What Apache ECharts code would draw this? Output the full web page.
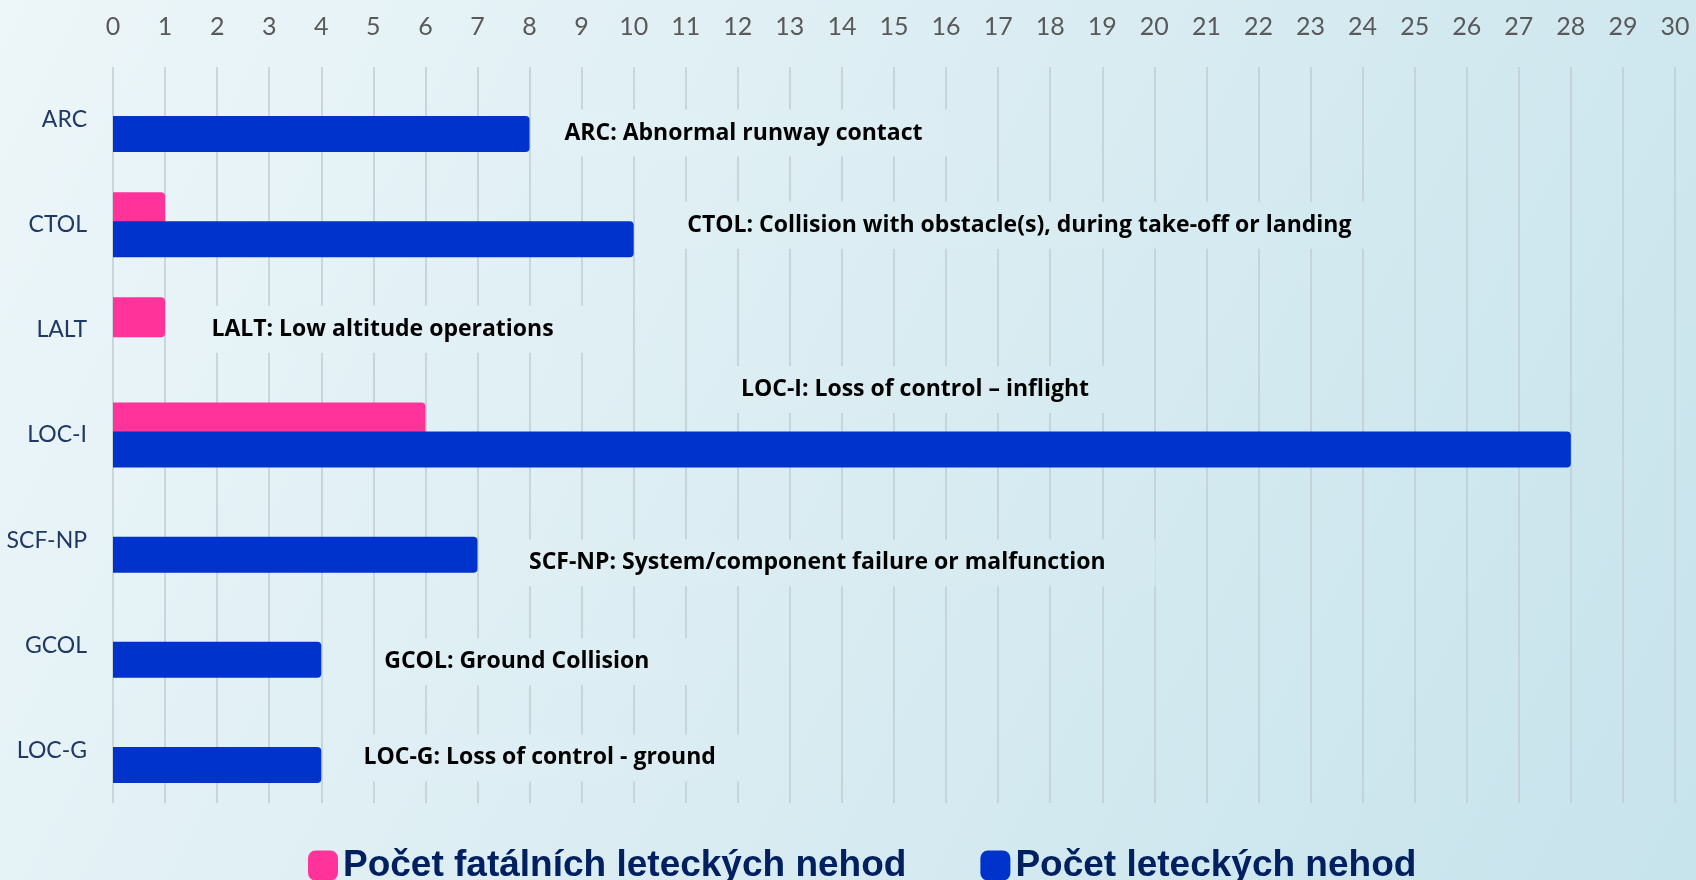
<!DOCTYPE html>
<html>
<head>
<meta charset="utf-8">
<title>Letecké nehody podle kategorie</title>
<script src="https://cdn.jsdelivr.net/npm/echarts@6/dist/echarts.min.js"></script>
<style>
    html, body { margin: 0; padding: 0; }
    #main { width: 1696px; height: 880px; }
</style>
</head>
<body>
<div id="main"></div>
<script>
    // categories, top to bottom
    var categories = ['ARC', 'CTOL', 'LALT', 'LOC-I', 'SCF-NP', 'GCOL', 'LOC-G'];
    var fatalCounts = [0, 1, 1, 6, 0, 0, 0];
    var accidentCounts = [8, 10, 0, 28, 7, 4, 4];
    var xMin = 0, xMax = 30, xStep = 1;
    var notes = [
        'ARC: Abnormal runway contact',
        'CTOL: Collision with obstacle(s), during take-off or landing',
        'LALT: Low altitude operations',
        'LOC-I: Loss of control – inflight',
        'SCF-NP: System/component failure or malfunction',
        'GCOL: Ground Collision',
        'LOC-G: Loss of control - ground'
    ];

    // where each note sits: x in axis units, shift in px from the band centre
    var noteAt = [8.67, 11.03, 1.89, 12.06, 7.99, 5.21, 4.81];
    var noteShift = [-1, -14, -15, -60, 8, 2, -7];

    var noteFont = {family: 'Open Sans', size: 23};
    var notePad = [12, 50, 12, 6];

    var bgFrom = [237, 246, 249], bgTo = [199, 227, 236];
    var W = 1696, H = 880;

    function bgAt(x, y) {
        var t = (x * W + y * H) / (W * W + H * H);
        t = Math.max(0, Math.min(1, t));
        var c = bgFrom.map(function (v, k) { return Math.round(v + (bgTo[k] - v) * t); });
        return 'rgb(' + c.join(',') + ')';
    }

    var measure = document.createElement('canvas').getContext('2d');
    measure.font = 'bold ' + noteFont.size + 'px "' + noteFont.family + '"';

    function noteData(anchors) {
        return categories.map(function (c, i) {
            var fill = 'transparent';
            if (anchors) {
                var x0 = anchors[i][0] - notePad[3];
                var y = anchors[i][1] + noteShift[i];
                var w = measure.measureText(notes[i]).width + notePad[1] + notePad[3];
                fill = new echarts.graphic.LinearGradient(0, 0, 1, 0, [
                    {offset: 0, color: bgAt(x0, y)},
                    {offset: 1, color: bgAt(x0 + w, y)}
                ]);
            }
            return {
                name: notes[i],
                coord: [noteAt[i], i],
                label: {
                    offset: [-notePad[3], noteShift[i]],
                    backgroundColor: fill
                }
            };
        });
    }

    var chart = echarts.init(document.getElementById('main'));
    chart.setOption({
        backgroundColor: new echarts.graphic.LinearGradient(0, 0, 1, 1, [
            {offset: 0, color: 'rgb(' + bgFrom.join(',') + ')'},
            {offset: 1, color: 'rgb(' + bgTo.join(',') + ')'}
        ]),
        animation: false,
        grid: {left: 113, right: 21, top: 67, bottom: 77},
        legend: {
            left: 303,
            top: 842,
            icon: 'roundRect',
            itemWidth: 30,
            itemHeight: 30,
            itemGap: 74,
            textStyle: {
                fontFamily: 'Liberation Sans',
                fontWeight: 'bold',
                fontSize: 37,
                color: '#002060'
            }
        },
        xAxis: {
            type: 'value',
            position: 'top',
            min: xMin,
            max: xMax,
            interval: xStep,
            axisLine: {show: false},
            axisTick: {show: false},
            axisLabel: {
                margin: 28,
                fontFamily: 'Lato',
                fontSize: 25,
                color: '#595959'
            },
            splitLine: {lineStyle: {color: '#bfcdd3', width: 1.5}}
        },
        yAxis: {
            type: 'category',
            data: categories,
            inverse: true,
            axisLine: {show: false},
            axisTick: {show: false},
            axisLabel: {
                margin: 26,
                fontFamily: 'Lato',
                fontSize: 23,
                color: '#1f3864'
            }
        },
        series: [
            {
                name: 'Počet fatálních leteckých nehod',
                type: 'bar',
                data: fatalCounts,
                barWidth: 40,
                barGap: '-27.5%',
                itemStyle: {color: '#ff3399', borderRadius: [0, 4, 4, 0]}
            },
            {
                name: 'Počet leteckých nehod',
                type: 'bar',
                data: accidentCounts,
                barWidth: 36,
                barGap: '-27.5%',
                itemStyle: {color: '#0033cc', borderRadius: [0, 4, 4, 0]},
                markPoint: {
                    symbol: 'rect',
                    symbolSize: 0,
                    silent: true,
                    label: {
                        show: true,
                        position: 'right',
                        distance: 0,
                        formatter: '{b}',
                        fontFamily: noteFont.family,
                        fontWeight: 'bold',
                        fontSize: noteFont.size,
                        color: '#000',
                        padding: notePad
                    },
                    data: noteData(null)
                }
            }
        ]
    });

    // fill the note boxes with the background under them, so they only hide the grid lines
    var anchors = categories.map(function (c, i) {
        return chart.convertToPixel({gridIndex: 0}, [noteAt[i], i]);
    });
    chart.setOption({series: [{}, {markPoint: {data: noteData(anchors)}}]});
</script>
</body>
</html>
